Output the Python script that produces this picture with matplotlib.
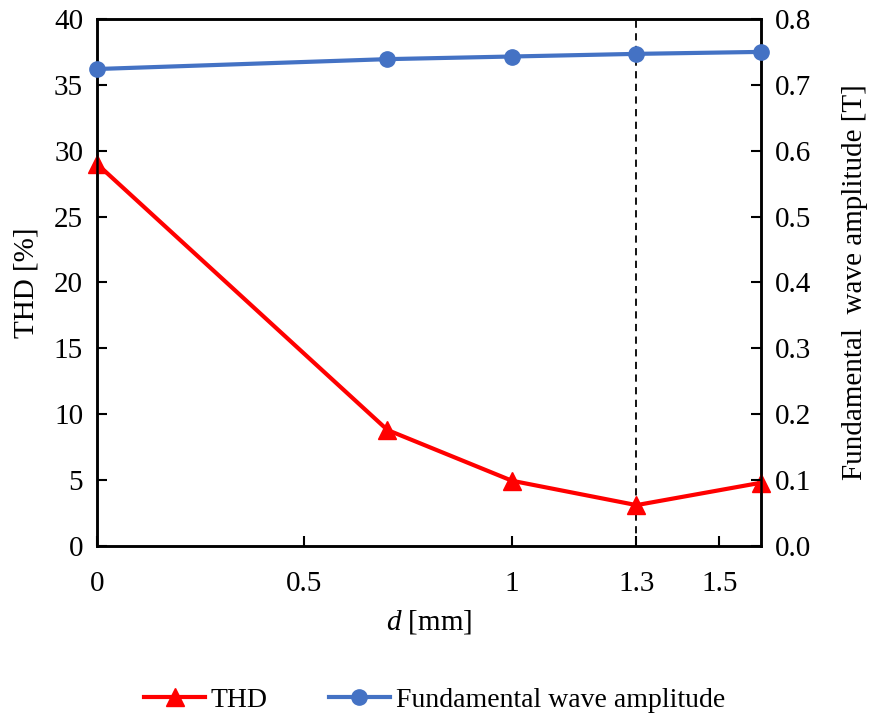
import matplotlib.pyplot as plt

plt.rcParams['font.family'] = ['Liberation Serif', 'DejaVu Serif']
plt.rcParams['mathtext.fontset'] = 'custom'
plt.rcParams['mathtext.it'] = 'Liberation Serif:italic'
plt.rcParams['mathtext.rm'] = 'Liberation Serif'

# data
d_mm = [0, 0.7, 1.0, 1.3, 1.6]
thd = [29.0, 8.8, 4.95, 3.1, 4.8]
fund_amp = [0.724, 0.739, 0.743, 0.747, 0.750]
x_ticks = [0, 0.5, 1, 1.3, 1.5]
x_tick_labels = ['0', '0.5', '1', '1.3', '1.5']

fig = plt.figure(figsize=(8.69, 7.18), dpi=100)
ax = fig.add_axes([0.1116, 0.2396, 0.7641, 0.7340])
ax2 = ax.twinx()

fs = 21

l1, = ax.plot(d_mm, thd, color='#ff0000', lw=3, marker='^', ms=13, label='THD',
              zorder=3, clip_on=False)
l2, = ax2.plot(d_mm, fund_amp, color='#4472c4', lw=3, marker='o', ms=11,
               label='Fundamental wave amplitude', zorder=3, clip_on=False)
ax.axvline(1.3, color='black', ls='--', lw=1.3, dashes=(4, 3))

ax.set_xlim(0, 1.6)
ax.set_ylim(0, 40)
ax2.set_ylim(0, 0.8)
ax.set_xticks(x_ticks)
ax.set_xticklabels(x_tick_labels)
ax.set_yticks(range(0, 41, 5))
ax2.set_yticks([i / 10 for i in range(9)])
ax2.set_yticklabels([f'{i / 10:.1f}' for i in range(9)])

for a in (ax, ax2):
    a.tick_params(direction='in', length=7, width=1.5, labelsize=fs, pad=10)
    for s in a.spines.values():
        s.set_linewidth(1.8)
ax.tick_params(axis='x', pad=18)

ax.set_xlabel('$d$ [mm]', fontsize=fs, labelpad=8)
ax.set_ylabel('THD [%]', fontsize=fs, labelpad=10)
ax2.set_ylabel('Fundamental  wave amplitude [T]', fontsize=fs, labelpad=22)

fig.legend(handles=[l1, l2], loc='lower center', bbox_to_anchor=(0.5, -0.028), ncol=2,
           frameon=False, fontsize=20, handlelength=2.2, handletextpad=0.2, columnspacing=2.2)

fig.savefig('out.png', dpi=100)
